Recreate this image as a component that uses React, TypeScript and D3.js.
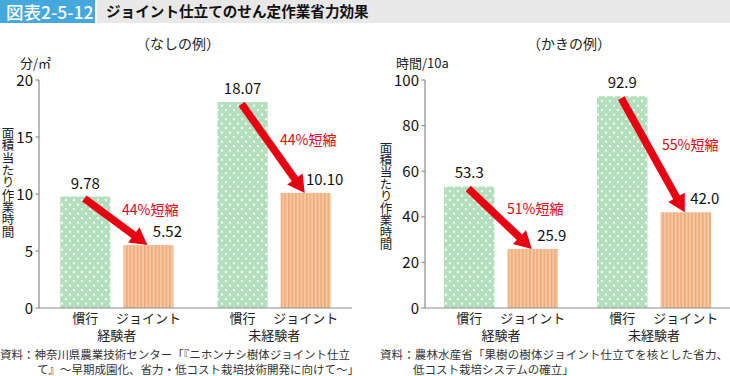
import React from 'react';
import * as d3 from 'd3';

const categories = ['慣行', 'ジョイント'];
const groups = ['経験者', '未経験者'];
const pearValues = [[9.78, 5.52], [18.07, 10.10]];
const pearLabels = [['9.78', '5.52'], ['18.07', '10.10']];
const pearReductions = ['44%短縮', '44%短縮'];
const pearTicks = [0, 5, 10, 15, 20];
const persimmonValues = [[53.3, 25.9], [92.9, 42.0]];
const persimmonLabels = [['53.3', '25.9'], ['92.9', '42.0']];
const persimmonReductions = ['51%短縮', '55%短縮'];
const persimmonTicks = [0, 20, 40, 60, 80, 100];

const FONT = '"Noto Sans CJK JP", "Noto Sans", sans-serif';
const RED = '#e60012';
const AXIS = '#8c8c8c';
const yLabel = '面積当たり作業時間';

function arrowPath(x1: number, y1: number, x2: number, y2: number) {
  const dx = x2 - x1, dy = y2 - y1;
  const len = Math.sqrt(dx * dx + dy * dy);
  const ux = dx / len, uy = dy / len;
  const px = -uy, py = ux;
  const sw = 3.8, hw = 9.5, hl = 17;
  const bx = x2 - ux * hl, by = y2 - uy * hl;
  const pts = [
    [x1 + px * sw, y1 + py * sw],
    [bx + px * sw, by + py * sw],
    [bx + px * hw, by + py * hw],
    [x2, y2],
    [bx - px * hw, by - py * hw],
    [bx - px * sw, by - py * sw],
    [x1 - px * sw, y1 - py * sw],
  ];
  return 'M' + pts.map(p => p[0].toFixed(1) + ',' + p[1].toFixed(1)).join('L') + 'Z';
}

interface PanelProps {
  axisX: number;
  rangeEnd: number;
  padInner: number;
  padOuter: number;
  max: number;
  ticks: number[];
  values: number[][];
  labels: string[][];
  reductions: string[];
  unit: string;
  unitX: number;
  title: string;
  titleX: number;
  yLabelX: number;
  yLabelTop: number;
  yLabelLen: number;
  reductionPos: number[][];
}

function Panel(p: PanelProps) {
  const y = d3.scaleLinear().domain([0, p.max]).range([308, 80]);
  const xg = d3.scaleBand<string>().domain(groups).range([p.axisX, p.rangeEnd]).paddingInner(p.padInner).paddingOuter(p.padOuter);
  const xi = d3.scaleBand<string>().domain(categories).range([0, xg.bandwidth()]).paddingInner(0.206).paddingOuter(0);
  const bw = xi.bandwidth();
  return (
    <g>
      <text x={p.titleX} y={49} textAnchor="middle" fontSize={14} fontFamily={FONT} fill="#222">{p.title}</text>
      <text x={p.unitX} y={68} fontSize={13} fontFamily={FONT} fill="#222">{p.unit}</text>
      <text x={p.yLabelX} y={p.yLabelTop} fontSize={12.5} fontFamily={FONT} fill="#222"
        style={{ writingMode: 'vertical-rl' }} textLength={p.yLabelLen} lengthAdjust="spacing">{yLabel}</text>
      {groups.map((g, gi) => {
        const gx = xg(g)!;
        return (
          <g key={g}>
            {categories.map((c, ci) => {
              const x0 = gx + xi(c)!;
              const v = p.values[gi][ci];
              return (
                <g key={c}>
                  <rect x={x0} y={y(v)} width={bw} height={y(0) - y(v)} fill={ci === 0 ? `url(#dots)` : `url(#stripes)`} />
                  <text x={x0 + bw / 2 + (ci === 1 ? 19 : 0)} y={y(v) - 8} textAnchor="middle" fontSize={15} fontFamily={FONT} fill="#111">{p.labels[gi][ci]}</text>
                  <text x={x0 + bw / 2} y={323} textAnchor="middle" fontSize={13} fontFamily={FONT} fill="#222">{c}</text>
                </g>
              );
            })}
            <text x={gx + xg.bandwidth() / 2} y={340} textAnchor="middle" fontSize={13} fontFamily={FONT} fill="#222">{g}</text>
            <path d={arrowPath(gx + xi(categories[0])! + bw / 2 - 1, y(p.values[gi][0]) + 2, gx + xi(categories[1])! + bw / 2 - 1, y(p.values[gi][1]))} fill={RED} />
            <text x={p.reductionPos[gi][0]} y={p.reductionPos[gi][1]} fontSize={14} fontFamily={FONT} fill={RED}>{p.reductions[gi]}</text>
          </g>
        );
      })}
      <line x1={p.axisX} x2={p.axisX} y1={y(p.max)} y2={y(0)} stroke={AXIS} strokeWidth={1.2} />
      <line x1={p.axisX} x2={p.rangeEnd} y1={y(0)} y2={y(0)} stroke={AXIS} strokeWidth={1.2} />
      {p.ticks.map(t => (
        <g key={t}>
          <line x1={p.axisX - 3.5} x2={p.axisX} y1={y(t)} y2={y(t)} stroke={AXIS} strokeWidth={1.2} />
          <text x={p.axisX - 6} y={y(t) + 5.5} textAnchor="end" fontSize={15} fontFamily={FONT} fill="#111">{t}</text>
        </g>
      ))}
    </g>
  );
}

export default function App() {
  return (
    <svg width={730} height={376} style={{ position: 'absolute', left: 0, top: 0, background: '#fff' }}>
      <defs>
        <pattern id="dots" width={8} height={9} patternUnits="userSpaceOnUse">
          <rect width={8} height={9} fill="#b3dfbd" />
          <circle cx={2} cy={2.2} r={1.1} fill="#fff" />
          <circle cx={6} cy={6.7} r={1.1} fill="#fff" />
        </pattern>
        <pattern id="stripes" width={3.6} height={10} patternUnits="userSpaceOnUse">
          <rect width={3.6} height={10} fill="#f7c8a2" />
          <rect x={0} width={1.4} height={10} fill="#eda674" />
        </pattern>
      </defs>
      <rect x={0} y={0} width={95} height={23} fill="#45a8dd" />
      <rect x={97} y={0} width={633} height={23} fill="#e8e8e8" />
      <text x={6} y={19} fontSize={17.5} fontFamily={FONT} fill="#fff" fontWeight={500}>図表2-5-12</text>
      <text x={106} y={17} fontSize={14.6} fontFamily={FONT} fill="#111" fontWeight={700}>ジョイント仕立てのせん定作業省力効果</text>
      <Panel axisX={39} rangeEnd={352} padInner={0.28} padOuter={0.135} max={20} ticks={pearTicks}
        values={pearValues} labels={pearLabels} reductions={pearReductions} unit="分/㎡" unitX={20}
        title="（なしの例）" titleX={178} yLabelX={8} yLabelTop={127} yLabelLen={111}
        reductionPos={[[122, 215], [280, 145]]} />
      <Panel axisX={425} rangeEnd={730} padInner={0.255} padOuter={0.124} max={100} ticks={persimmonTicks}
        values={persimmonValues} labels={persimmonLabels} reductions={persimmonReductions} unit="時間/10a" unitX={396}
        title="（かきの例）" titleX={569} yLabelX={386} yLabelTop={142} yLabelLen={108}
        reductionPos={[[507, 214], [662, 150]]} />
      <text x={0} y={359} fontSize={11.5} fontFamily={FONT} fill="#333" textLength={350} lengthAdjust="spacing">資料：神奈川県農業技術センター「『ニホンナシ樹体ジョイント仕立</text>
      <text x={37} y={374} fontSize={11.5} fontFamily={FONT} fill="#333">て』～早期成園化、省力・低コスト栽培技術開発に向けて～」</text>
      <text x={380} y={359} fontSize={11.5} fontFamily={FONT} fill="#333" textLength={348} lengthAdjust="spacing">資料：農林水産省「果樹の樹体ジョイント仕立てを核とした省力、</text>
      <text x={413} y={374} fontSize={11.5} fontFamily={FONT} fill="#333">低コスト栽培システムの確立」</text>
    </svg>
  );
}
